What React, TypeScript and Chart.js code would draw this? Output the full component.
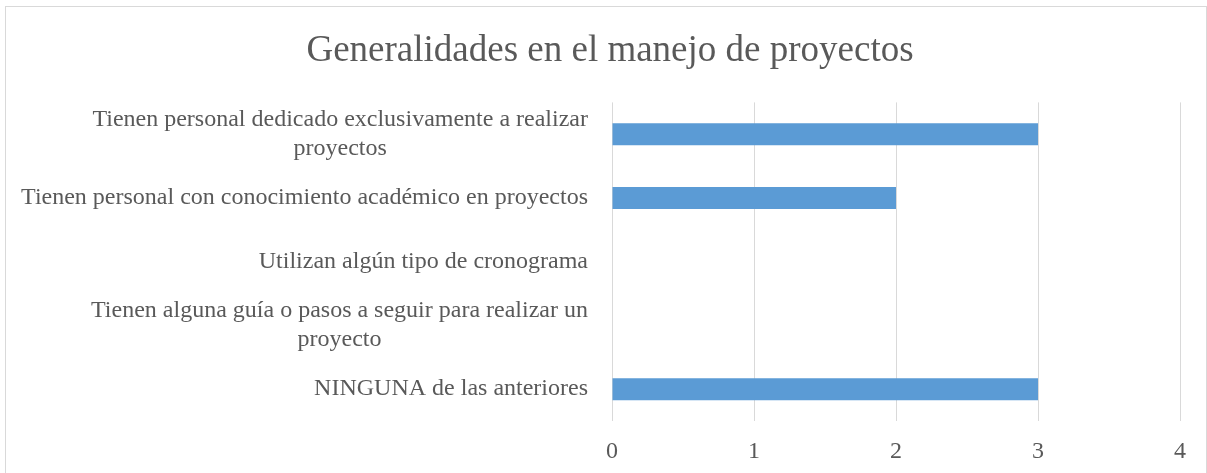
import React, { useEffect, useRef } from "react";
import { Chart, registerables } from "chart.js";

Chart.register(...registerables);

const title = "Generalidades en el manejo de proyectos";
const categories: (string | string[])[] = [
  ["Tienen personal dedicado exclusivamente a realizar", "proyectos"],
  "Tienen personal con conocimiento académico en proyectos",
  "Utilizan algún tipo de cronograma",
  ["Tienen alguna guía o pasos a seguir para realizar un", "proyecto"],
  "NINGUNA de las anteriores",
];
const values = [3, 2, 0, 0, 3];
const xMin = 0;
const xMax = 4;

const FONT = "'Liberation Serif', 'Times New Roman', serif";
const TEXT = "#595959";
const GRID = "#d9d9d9";
const BAR = "#5b9bd5";

const frameAndLabels = {
  id: "frameAndLabels",
  beforeDraw(chart: any) {
    const ctx = chart.ctx;
    ctx.save();
    ctx.strokeStyle = GRID;
    ctx.lineWidth = 1;
    ctx.strokeRect(5.5, 6.5, 1201, 520);
    ctx.restore();
  },
  afterDraw(chart: any) {
    const ctx = chart.ctx;
    const yScale = chart.scales.y;
    const right = chart.chartArea.left - 24;
    const size = 24;
    const lh = 29;
    ctx.save();
    ctx.font = `${size}px ${FONT}`;
    ctx.fillStyle = TEXT;
    ctx.textBaseline = "middle";
    ctx.textAlign = "center";
    categories.forEach((lab, i) => {
      const lines = Array.isArray(lab) ? lab : [lab];
      const w = Math.max(...lines.map((l) => ctx.measureText(l).width));
      const cx = right - w / 2;
      const cy = yScale.getPixelForValue(i);
      lines.forEach((l, j) => {
        ctx.fillText(l, cx, cy + (j - (lines.length - 1) / 2) * lh);
      });
    });
    ctx.restore();
  },
};

export default function App() {
  const ref = useRef<HTMLCanvasElement | null>(null);
  useEffect(() => {
    if (!ref.current) return;
    const chart = new Chart(ref.current, {
      type: "bar",
      data: {
        labels: categories as any,
        datasets: [
          {
            data: values,
            backgroundColor: BAR,
            borderWidth: 0,
            barPercentage: 0.345,
            categoryPercentage: 1,
          },
        ],
      },
      options: {
        indexAxis: "y",
        animation: false,
        responsive: false,
        layout: { padding: { left: 40, right: 27, top: 0, bottom: 0 } },
        plugins: {
          legend: { display: false },
          tooltip: { enabled: false },
          title: {
            display: true,
            text: title,
            color: TEXT,
            font: { family: FONT, size: 37, weight: "normal" },
            padding: { top: 29, bottom: 29 },
          },
        },
        scales: {
          x: {
            min: xMin,
            max: xMax,
            ticks: {
              stepSize: 1,
              color: TEXT,
              font: { family: FONT, size: 24 },
              padding: 16,
            },
            grid: { color: GRID, lineWidth: 1, drawTicks: false },
            border: { display: false },
            afterFit: (s: any) => {
              s.height = 52;
            },
          },
          y: {
            ticks: { display: false },
            grid: { display: false },
            border: { display: false },
            afterFit: (s: any) => {
              s.width = 572;
            },
          },
        },
      },
      plugins: [frameAndLabels],
    });
    return () => chart.destroy();
  }, []);
  return (
    <div style={{ position: "absolute", left: 0, top: 0, width: 1207, height: 473, background: "#fff" }}>
      <canvas ref={ref} width={1207} height={473} style={{ display: "block" }} />
    </div>
  );
}
